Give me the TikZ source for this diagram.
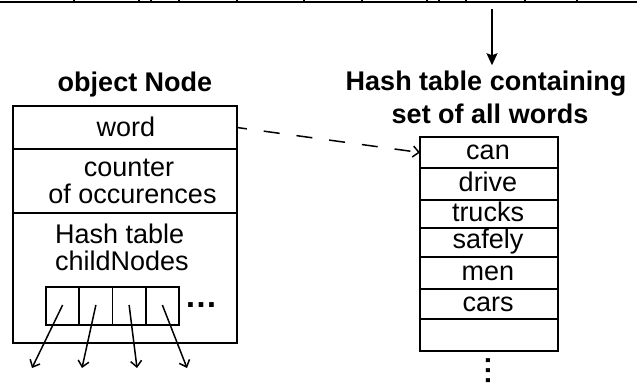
\documentclass[tikz,border=0pt]{standalone}
\usepackage{fontspec}
\setmainfont{Liberation Sans}
\usetikzlibrary{arrows.meta}
\begin{document}
\begin{tikzpicture}[x=1pt,y=-1pt,
  frame/.style={draw,line width=1.8pt,inner sep=0pt,outer sep=0pt},
  txt/.style={inner sep=0pt,font=\fontsize{27pt}{29pt}\selectfont},
  ttl/.style={inner sep=0pt,font=\fontsize{27pt}{29pt}\selectfont\bfseries},
  dotsym/.style={inner sep=0pt,font=\fontsize{33pt}{33pt}\selectfont\bfseries},
  link/.style={line width=1.5pt},
  barb/.style={link,-{Straight Barb[length=6pt,width=11pt,line width=1.5pt]}},
  ptr/.style={link,dash pattern=on 16pt off 17pt,dash phase=6pt,
    -{Straight Barb[length=6pt,width=11pt,line width=1.5pt]}},
  feed/.style={link,-{Stealth[length=12pt,width=11pt,inset=2pt]}}
]
\useasboundingbox (0,0) rectangle (637,385);

% cut-off row of cells along the top edge
\draw[line width=1.8pt] (0,2) -- (637,2);
\foreach \x in {74,139,151,179,237,304,362,427,439,466,525,577}
  \draw[line width=1.5pt] (\x,0) -- (\x,2);

% ---------- object Node ----------
\node[ttl,anchor=base] (ntitle) at (135,92) {object Node};

\node[frame,minimum width=224pt,minimum height=43pt] (word) at (125,127.5) {};
\node[frame,minimum width=224pt,minimum height=64pt] (count) at (125,181) {};
\node[frame,minimum width=224pt,minimum height=130pt] (children) at (125,278) {};

\node[txt,anchor=base] (wordtxt) at (126,137) {word};
\node[txt,anchor=base] (cnt1) at (129,176.5) {counter};
\node[txt,anchor=base] (cnt2) at (132.5,203.3) {of occurences};
\node[txt,anchor=base west] (ch1) at (55,243) {Hash table};
\node[txt,anchor=base west] (ch2) at (55,270) {childNodes};

% child buckets
\foreach \i/\cx in {1/62.625,2/95.875,3/129.125,4/162.375}
  \node[frame,minimum width=33.25pt,minimum height=38pt] (b\i) at (\cx,306) {};
\node[dotsym] (hdots) at (201,305) {…};

\coordinate (e1) at (32,368);
\coordinate (e2) at (82,368);
\coordinate (e3) at (137,368);
\coordinate (e4) at (187,368);
\draw[barb] ([yshift=1pt]b1.center) -- (e1);
\draw[barb] ([yshift=1pt]b2.center) -- (e2);
\draw[barb] ([yshift=1pt]b3.center) -- (e3);
\draw[barb] ([yshift=1pt]b4.center) -- (e4);

% ---------- set of all words ----------
\node[ttl,anchor=base] (htitle1) at (486,91) {Hash table containing};
\node[ttl,anchor=base] (htitle2) at (490,124) {set of all words};

\coordinate (src) at (492,9);
\draw[feed,shorten >=6pt] (src) -- (htitle1.north -| src);

\foreach \n/\top/\bot in {can/137/168,drive/168/200,trucks/200/228,safely/228/257,men/257/289,cars/289/319,empty/319/351}{
  \pgfmathsetmacro{\rowh}{\bot-\top}
  \pgfmathsetmacro{\rowc}{(\top+\bot)/2}
  \node[frame,minimum width=138pt,minimum height=\rowh pt] (\n) at (489,\rowc) {};
}

\node[txt,anchor=base] at (488,160) {can};
\node[txt,anchor=base] at (488,191) {drive};
\node[txt,anchor=base] at (488,221) {trucks};
\node[txt,anchor=base] at (488,248) {safely};
\node[txt,anchor=base] at (488,280) {men};
\node[txt,anchor=base] at (488,311) {cars};

\node[inner sep=0pt,font=\fontsize{28pt}{28pt}\selectfont\bfseries,rotate=90]
  (vdots) at (488,370.5) {.\kern2.2pt.\kern2.2pt.};

% word field refers into the word set
\draw[ptr] (word.east) -- (can.west);
\end{tikzpicture}
\end{document}
